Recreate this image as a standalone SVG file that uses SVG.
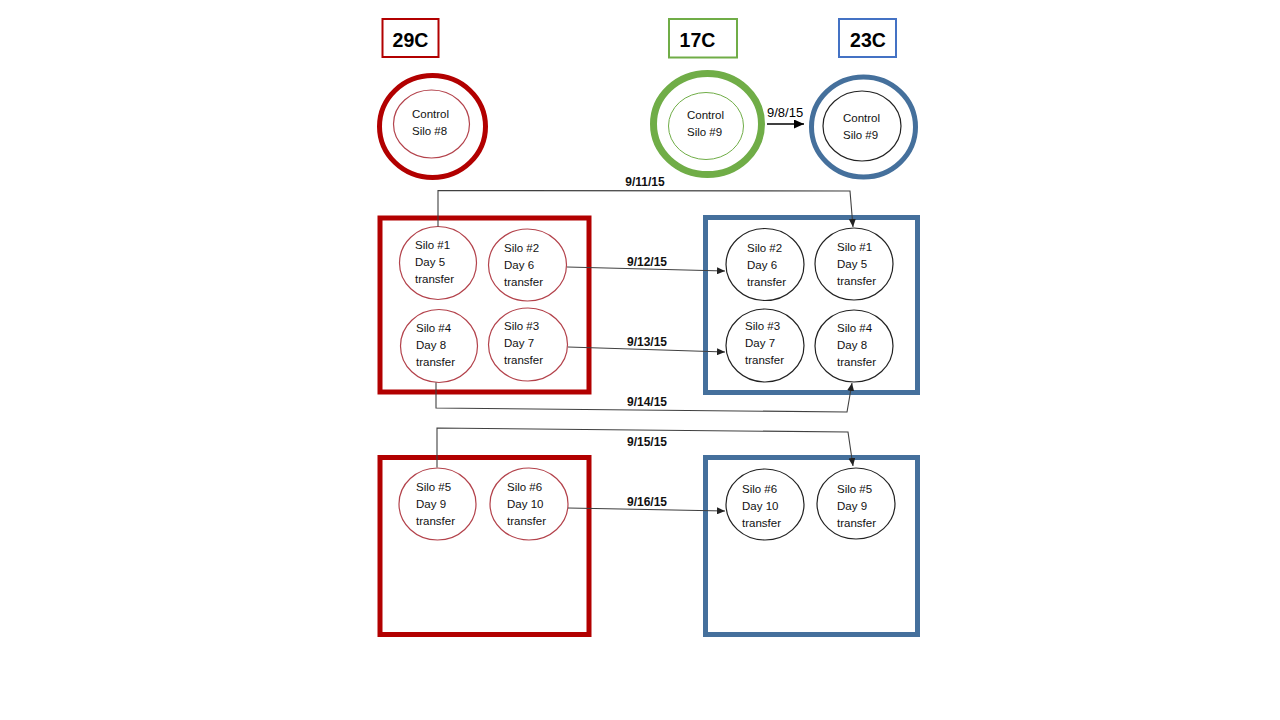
<svg xmlns="http://www.w3.org/2000/svg" width="1280" height="720" viewBox="0 0 1280 720">
<style>
.red{fill:none;stroke:#B20000;stroke-width:5}
.blue{fill:none;stroke:#45709C;stroke-width:5}
.rc{fill:#fff;stroke:#B3424B;stroke-width:1.2}
.bc{fill:#fff;stroke:#222;stroke-width:1.2}
.t{font-family:"Liberation Sans",Arial,sans-serif;font-size:11.5px;fill:#111}
.d{font-family:"Liberation Sans",Arial,sans-serif;font-size:12px;font-weight:bold;fill:#111;text-anchor:middle}
.h{font-family:"Liberation Sans",Arial,sans-serif;font-size:19.5px;font-weight:bold;fill:#000;text-anchor:middle}
.c{fill:none;stroke:#404040;stroke-width:1.1}
</style>
<defs>
<marker id="ah" markerUnits="userSpaceOnUse" markerWidth="8" markerHeight="7" refX="8" refY="3.5" orient="auto">
<path d="M0,0 L8,3.5 L0,7 z" fill="#222"/>
</marker>
<marker id="ahb" markerUnits="userSpaceOnUse" markerWidth="10" markerHeight="9" refX="10" refY="4.5" orient="auto">
<path d="M0,0 L10,4.5 L0,9 z" fill="#000"/>
</marker>
</defs>
<rect width="1280" height="720" fill="#fff"/>

<g id="label-29C"><rect x="382.5" y="19" width="56" height="38" fill="#fff" stroke="#B20000" stroke-width="2"/><text class="h" x="410.5" y="46.5">29C</text></g>
<g id="label-17C"><rect x="669" y="19" width="68" height="38.5" fill="#fff" stroke="#70AD47" stroke-width="2"/><text class="h" x="697.5" y="46.5">17C</text></g>
<g id="label-23C"><rect x="839" y="19" width="57" height="38" fill="#fff" stroke="#4472C4" stroke-width="2"/><text class="h" x="868" y="46.5">23C</text></g>

<g id="control-29C"><ellipse cx="432.5" cy="126.5" rx="53" ry="51" fill="#fff" stroke="#B20000" stroke-width="5"/><ellipse cx="431.5" cy="124" rx="38" ry="34" class="rc"/><text class="t" x="412" y="118">Control</text><text class="t" x="412" y="135">Silo #8</text></g>
<g id="control-17C"><ellipse cx="707.5" cy="124" rx="54" ry="50.5" fill="#fff" stroke="#70AD47" stroke-width="7"/><ellipse cx="706" cy="126" rx="37.5" ry="33.5" fill="#fff" stroke="#70AD47" stroke-width="1"/><text class="t" x="687" y="119">Control</text><text class="t" x="687" y="136">Silo #9</text></g>
<g id="control-23C"><ellipse cx="863.5" cy="127" rx="52" ry="50" fill="#fff" stroke="#45709C" stroke-width="5"/><ellipse cx="862" cy="126" rx="39" ry="35" class="bc"/><text class="t" x="843" y="122">Control</text><text class="t" x="843" y="139">Silo #9</text></g>

<g id="box-29C-top"><rect class="red" x="380" y="218" width="209" height="174"/></g>
<g id="box-23C-top"><rect class="blue" x="705.5" y="217.5" width="212" height="175"/></g>
<g id="box-29C-bottom"><rect class="red" x="380" y="457.5" width="209" height="177"/></g>
<g id="box-23C-bottom"><rect class="blue" x="705.5" y="457.5" width="212" height="177"/></g>

<g id="r-silo1"><ellipse class="rc" cx="438" cy="263" rx="38.5" ry="36.5"/><text class="t" x="415" y="249">Silo #1</text><text class="t" x="415" y="266">Day 5</text><text class="t" x="415" y="283">transfer</text></g>
<g id="r-silo2"><ellipse class="rc" cx="527.5" cy="265" rx="39" ry="36"/><text class="t" x="504" y="252">Silo #2</text><text class="t" x="504" y="269">Day 6</text><text class="t" x="504" y="286">transfer</text></g>
<g id="r-silo4"><ellipse class="rc" cx="439" cy="346" rx="38.5" ry="36.5"/><text class="t" x="416" y="332">Silo #4</text><text class="t" x="416" y="349">Day 8</text><text class="t" x="416" y="366">transfer</text></g>
<g id="r-silo3"><ellipse class="rc" cx="528" cy="344.5" rx="39.5" ry="36.5"/><text class="t" x="504" y="330">Silo #3</text><text class="t" x="504" y="347">Day 7</text><text class="t" x="504" y="364">transfer</text></g>

<g id="b-silo2"><ellipse class="bc" cx="765" cy="264.5" rx="39" ry="36"/><text class="t" x="747" y="252">Silo #2</text><text class="t" x="747" y="269">Day 6</text><text class="t" x="747" y="286">transfer</text></g>
<g id="b-silo1"><ellipse class="bc" cx="854" cy="264" rx="39" ry="36"/><text class="t" x="837" y="251">Silo #1</text><text class="t" x="837" y="268">Day 5</text><text class="t" x="837" y="285">transfer</text></g>
<g id="b-silo3"><ellipse class="bc" cx="765" cy="345.5" rx="39" ry="36.5"/><text class="t" x="745" y="330">Silo #3</text><text class="t" x="745" y="347">Day 7</text><text class="t" x="745" y="364">transfer</text></g>
<g id="b-silo4"><ellipse class="bc" cx="854" cy="346" rx="39" ry="36"/><text class="t" x="837" y="332">Silo #4</text><text class="t" x="837" y="349">Day 8</text><text class="t" x="837" y="366">transfer</text></g>

<g id="r-silo5"><ellipse class="rc" cx="437.5" cy="504" rx="38.5" ry="36"/><text class="t" x="416" y="491">Silo #5</text><text class="t" x="416" y="508">Day 9</text><text class="t" x="416" y="525">transfer</text></g>
<g id="r-silo6"><ellipse class="rc" cx="529" cy="504" rx="39" ry="36"/><text class="t" x="507" y="491">Silo #6</text><text class="t" x="507" y="508">Day 10</text><text class="t" x="507" y="525">transfer</text></g>
<g id="b-silo6"><ellipse class="bc" cx="765" cy="504.5" rx="39" ry="35.5"/><text class="t" x="742" y="493">Silo #6</text><text class="t" x="742" y="510">Day 10</text><text class="t" x="742" y="527">transfer</text></g>
<g id="b-silo5"><ellipse class="bc" cx="856" cy="503.5" rx="39" ry="35.5"/><text class="t" x="837" y="493">Silo #5</text><text class="t" x="837" y="510">Day 9</text><text class="t" x="837" y="527">transfer</text></g>

<g id="connectors">
<line x1="767" y1="124" x2="804" y2="124" stroke="#000" stroke-width="1.3" marker-end="url(#ahb)"/>
<path class="c" d="M438,226.5 V190.5 L850,191 L853,227" marker-end="url(#ah)"/>
<path class="c" d="M567,267 L725,271" marker-end="url(#ah)"/>
<path class="c" d="M568,347 L725,352" marker-end="url(#ah)"/>
<path class="c" d="M436,382.5 V408 L847,412 L852,383" marker-end="url(#ah)"/>
<path class="c" d="M437,467.5 V428 L848,432 L853,466" marker-end="url(#ah)"/>
<path class="c" d="M568,508 L725,511" marker-end="url(#ah)"/>
</g>
<g id="connector-labels">
<text x="767" y="117" font-family="Liberation Sans, Arial, sans-serif" font-size="13" fill="#000">9/8/15</text>
<text class="d" x="645" y="186">9/11/15</text>
<text class="d" x="647" y="266">9/12/15</text>
<text class="d" x="647" y="346">9/13/15</text>
<text class="d" x="647" y="406">9/14/15</text>
<text class="d" x="647" y="446">9/15/15</text>
<text class="d" x="647" y="506">9/16/15</text>
</g>
</svg>
